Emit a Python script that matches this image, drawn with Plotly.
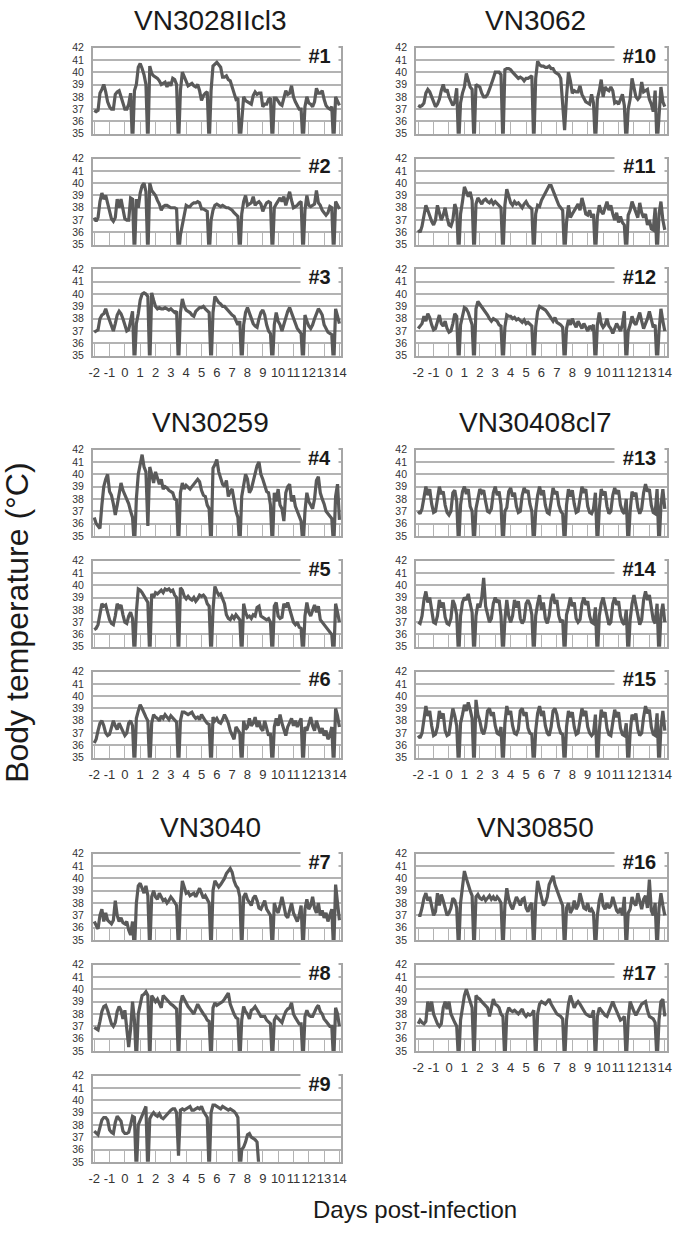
import plotly.graph_objects as go

# strain names above each column pair, top to bottom
strains = ["VN3028IIcl3", "VN3062", "VN30259", "VN30408cl7", "VN3040", "VN30850"]
day_ticks = list(range(-2, 15))
day_labels = [str(d) for d in day_ticks]
temp_ticks = list(range(35, 43))
start_day = -2
step_days = 0.125  # 3-hourly readings

# body temperature per animal (deg C); dips below 35 are handling artefacts
temp_01 = [36.9, 36.8, 36.9, 38.3, 38.6, 39.0, 38.4, 37.6,
           37.2, 37.0, 37.0, 38.2, 38.4, 38.5, 38.0, 37.4,
           37.0, 37.0, 37.4, 38.3, 34, 38.5, 39.0, 40.4,
           40.7, 40.3, 39.8, 39.0, 34, 40.5, 39.9, 39.7,
           39.6, 39.5, 39.3, 39.0, 39.1, 39.2, 38.8, 39.2,
           38.9, 39.5, 39.4, 39.0, 34, 38.5, 40.0, 39.6,
           39.2, 38.9, 39.0, 39.1, 38.9, 38.8, 39.0, 38.5,
           37.7, 38.1, 38.3, 38.4, 34, 38.5, 40.5, 40.7,
           40.8, 40.6, 40.4, 39.6, 39.6, 39.7, 39.4, 39.3,
           38.7, 38.3, 37.8, 37.9, 34, 36.5, 38.0, 37.7,
           37.6, 37.5, 37.4, 38.1, 38.4, 38.2, 38.3, 38.3,
           37.2, 37.4, 37.4, 37.8, 37.9, 34, 37.9, 37.9,
           37.6, 37.4, 37.3, 38.0, 38.5, 38.2, 38.3, 38.9,
           38.0, 37.6, 37.3, 37.0, 37.0, 34, 37.2, 38.0,
           37.5, 37.4, 37.2, 37.6, 38.7, 38.3, 38.3, 38.5,
           37.8, 37.3, 37.1, 37.0, 37.2, 34, 38.0, 37.6,
           37.3]
temp_02 = [37.2, 36.9, 37.2, 38.5, 39.2, 38.7, 39.0, 38.3,
           37.7, 37.1, 36.9, 37.2, 38.7, 38.0, 38.7, 37.8,
           37.1, 37.0, 37.0, 38.8, 38.7, 34, 38.7, 38.0,
           39.2, 39.8, 40.0, 39.3, 34, 40.0, 39.4, 39.2,
           39.0, 38.6, 38.3, 37.8, 38.1, 38.2, 38.2, 38.1,
           38.0, 38.0, 38.0, 37.9, 34, 35.8, 36.5, 37.5,
           38.2, 38.1, 38.1, 38.3, 38.4, 38.4, 38.5, 38.4,
           37.9, 37.9, 37.8, 37.7, 34, 37.0, 37.8, 38.2,
           38.3, 38.2, 38.1, 38.2, 38.1, 38.0, 38.0, 37.9,
           37.8, 37.6, 37.4, 37.3, 34, 37.5, 38.5, 39.0,
           38.2, 38.3, 38.4, 38.9, 38.2, 38.4, 38.5, 38.3,
           37.7, 38.1, 38.4, 38.5, 38.4, 34, 38.0, 38.3,
           38.6, 38.8, 38.5, 38.9, 38.2, 38.8, 39.3, 38.6,
           38.0, 38.1, 38.2, 38.4, 38.5, 34, 37.8, 39.0,
           38.2, 38.1, 38.2, 38.3, 39.4, 38.4, 38.2, 37.8,
           37.6, 37.4, 37.6, 38.1, 38.0, 34, 38.5, 38.2,
           37.9]
temp_03 = [36.9, 37.0, 37.1, 38.0, 38.3, 38.4, 38.8, 38.3,
           37.8, 37.3, 37.0, 37.6, 38.3, 38.6, 38.4, 38.0,
           37.4, 37.0, 37.1, 38.0, 38.6, 34, 37.6, 38.4,
           39.5, 40.0, 40.1, 40.0, 39.8, 34, 40.1, 39.5,
           39.0, 38.8, 38.9, 38.8, 38.8, 38.9, 38.8, 38.7,
           38.8, 38.6, 38.5, 38.6, 34, 38.5, 39.6, 39.0,
           38.7, 38.6, 38.5, 38.3, 38.2, 38.6, 38.8, 38.9,
           38.9, 39.0, 38.8, 38.6, 38.5, 34, 38.5, 39.8,
           39.5, 39.3, 39.2, 39.0, 39.0, 38.8, 38.7, 38.5,
           38.3, 38.2, 37.8, 37.5, 37.8, 34, 37.5, 38.5,
           38.9, 38.4, 38.0, 37.6, 37.4, 37.3, 38.0, 38.5,
           38.7, 38.3, 37.5, 37.0, 36.8, 34, 37.5, 38.5,
           37.8, 37.5, 37.0, 37.5, 38.2, 38.6, 38.9, 38.5,
           38.0, 37.6, 37.2, 37.0, 36.8, 34, 38.3, 37.8,
           37.4, 37.2, 37.5, 38.0, 38.4, 38.8, 38.6, 38.3,
           37.5, 37.2, 36.9, 36.8, 36.7, 34, 38.8, 38.2,
           37.6]
temp_04 = [36.5, 36.0, 35.8, 35.6, 37.5, 39.0, 39.6, 40.0,
           38.6, 38.3, 37.6, 36.7, 37.5, 38.6, 39.3, 38.7,
           38.3, 38.0, 37.6, 37.0, 36.5, 34, 38.0, 40.0,
           41.0, 41.6, 40.6, 40.2, 35.8, 40.6, 40.0, 39.3,
           40.2, 39.6, 39.2, 39.6, 38.8, 39.0, 38.9, 38.7,
           38.6, 38.5, 38.0, 37.9, 34, 38.5, 39.3, 38.8,
           39.1, 38.9, 38.8, 39.0, 39.2, 39.4, 39.6, 39.4,
           38.7, 38.3, 38.2, 37.5, 37.2, 34, 40.5, 40.8,
           41.2, 40.2, 39.6, 39.2, 39.0, 39.5, 38.2, 38.6,
           38.8, 37.8, 37.0, 36.5, 34, 38.2, 39.0, 40.0,
           39.6, 38.5, 38.8, 39.5, 40.2, 40.7, 41.0, 40.0,
           39.6, 39.0, 38.6, 38.5, 37.5, 34, 38.5, 37.8,
           38.8, 37.5, 37.2, 36.2, 38.5, 39.0, 39.2, 37.8,
           38.3, 37.4, 37.0, 36.6, 36.2, 34, 37.0, 38.5,
           37.8, 37.5, 37.2, 38.0, 39.5, 39.8, 38.5, 38.0,
           37.6, 37.0, 36.8, 36.5, 36.4, 34, 38.2, 39.2,
           36.3]
temp_05 = [36.4, 36.5, 36.8, 37.8, 38.5, 38.3, 38.4, 37.8,
           37.2, 36.9, 36.8, 37.5, 38.5, 38.2, 38.4, 37.6,
           37.0, 36.9, 37.5, 37.8, 37.3, 34, 37.8, 39.7,
           39.6, 39.4, 39.1, 38.8, 38.6, 34, 39.3, 39.0,
           39.4, 39.3, 39.5, 39.6, 39.4, 39.7, 39.6, 39.7,
           39.5, 39.6, 39.2, 39.0, 34, 39.8, 39.6, 39.1,
           38.9, 39.1, 38.9, 38.8, 39.0, 38.7, 38.9, 39.2,
           39.1, 39.2, 39.0, 38.5, 38.3, 34, 38.0, 39.9,
           39.5, 39.2, 39.3, 38.8, 38.5, 37.6, 37.3, 37.2,
           37.5, 37.3, 37.6, 37.4, 37.2, 34, 38.5, 37.8,
           37.4, 37.5, 37.3, 37.6, 37.5, 38.2, 38.3, 37.5,
           37.4, 37.3, 37.2, 37.3, 37.0, 34, 38.3, 38.6,
           37.5, 37.3, 37.4, 38.5, 38.2, 38.6, 38.0, 37.5,
           37.0, 36.8, 37.0, 36.6, 36.5, 34, 37.5, 38.6,
           37.8, 37.5, 38.0, 38.4, 37.8, 38.3, 37.2, 37.0,
           36.8, 36.5, 36.3, 36.2, 36.0, 34, 38.5, 37.8,
           37.0]
temp_06 = [36.2, 36.5, 37.2, 37.8, 38.0, 37.6, 37.0, 36.8,
           36.9, 37.5, 38.0, 37.6, 37.3, 37.8, 37.5, 37.2,
           36.8, 37.0, 37.8, 38.0, 37.6, 34, 38.2, 38.8,
           39.3, 39.0, 38.6, 38.3, 38.0, 34, 37.8, 38.5,
           38.3, 38.2, 38.0, 38.4, 38.2, 38.5, 38.3, 38.1,
           38.4, 38.2, 38.0, 37.9, 34, 38.0, 38.7, 38.7,
           38.6, 38.5, 38.6, 38.7, 38.4, 38.2, 38.3, 38.1,
           38.5, 38.2, 38.0, 37.8, 37.7, 34, 38.3, 38.0,
           38.2, 37.9, 37.8, 38.1, 38.5, 38.2, 37.8, 37.2,
           36.8, 36.5, 37.5, 37.3, 37.0, 34, 38.0, 37.3,
           37.5, 38.2, 37.6, 37.8, 38.3, 37.5, 38.0, 37.4,
           37.2, 38.0, 37.5, 36.8, 37.0, 34, 37.5, 38.2,
           37.6, 38.5, 37.8, 37.2, 36.8, 37.5, 37.8, 38.2,
           37.6, 38.0, 37.5, 37.8, 38.2, 34, 37.5, 37.2,
           37.8, 38.3, 37.6, 37.2, 38.0, 37.5, 37.0, 37.4,
           36.8, 37.2, 36.5, 36.8, 37.5, 34, 39.0, 38.4,
           37.5]
temp_07 = [36.5, 36.2, 35.9, 37.0, 37.5, 36.5, 37.2, 36.6,
           36.4, 36.3, 36.6, 38.2, 37.0, 36.5, 36.8, 36.4,
           36.3, 36.5, 35.8, 35.4, 36.5, 34, 38.0, 39.4,
           39.6, 39.2, 38.8, 39.4, 38.6, 34, 38.5, 39.0,
           38.5, 38.3, 38.8, 38.5, 38.2, 38.3, 38.0, 38.2,
           38.5, 38.3, 38.0, 37.8, 34, 38.0, 39.8, 39.2,
           38.8, 38.9, 38.6, 38.7, 38.8, 38.5, 38.9, 39.2,
           38.8, 38.4, 38.6, 38.3, 38.0, 34, 39.0, 39.8,
           39.5, 39.3, 39.5, 39.7, 40.0, 40.4, 40.6, 40.8,
           40.5, 39.8, 39.4, 39.2, 38.5, 34, 38.5, 38.8,
           38.3, 38.0, 37.8, 38.4, 38.6, 38.2, 37.6, 37.5,
           37.8, 38.2, 37.5, 37.2, 37.0, 34, 38.0, 37.5,
           37.2, 37.8, 38.5, 37.8, 37.0, 36.8, 37.5, 38.0,
           37.2, 36.8, 36.5, 37.0, 37.8, 34, 37.5, 38.3,
           37.5, 37.8, 38.5, 37.6, 37.2, 38.0, 37.0, 37.4,
           36.8, 37.2, 36.5, 37.0, 37.5, 34, 39.5, 38.0,
           36.6]
temp_08 = [36.9, 36.8, 36.7, 37.4, 38.2, 38.6, 38.7, 38.3,
           37.8, 37.2, 37.0, 37.3, 38.2, 38.6, 38.3, 37.6,
           38.3, 36.5, 35.3, 36.8, 39.0, 37.5, 34, 38.0,
           38.8, 39.5, 39.6, 39.8, 39.5, 34, 39.5, 39.3,
           39.0, 39.2, 38.8, 38.5, 39.5, 39.3, 39.2, 39.0,
           38.8, 38.7, 38.5, 38.4, 34, 38.8, 39.5, 39.2,
           38.8, 38.6, 38.4, 38.2, 38.0, 38.4, 38.8, 38.5,
           38.2, 38.0, 37.8, 37.5, 37.4, 34, 38.5, 38.9,
           38.7, 38.8, 38.9, 39.0, 39.2, 39.5, 39.7, 38.8,
           38.3, 38.0, 37.7, 37.6, 34, 37.5, 38.6, 38.2,
           38.0, 37.6, 38.3, 38.4, 38.6, 38.3, 38.0, 37.8,
           37.8, 37.8, 37.5, 37.3, 37.2, 34, 37.5, 37.8,
           37.6, 37.5, 37.3, 37.8, 38.2, 38.4, 38.5, 38.9,
           38.0, 37.7, 37.4, 37.2, 37.2, 34, 37.8, 38.3,
           37.9, 37.8, 37.8, 38.2, 38.5, 38.7, 38.2, 38.0,
           37.6, 37.4, 37.2, 37.0, 37.0, 34, 38.5, 38.0,
           37.0]
temp_09 = [37.5, 37.3, 37.2, 37.8, 38.4, 38.6, 38.6, 38.4,
           37.6, 37.4, 37.3, 38.2, 38.7, 38.5, 38.3, 37.5,
           37.3, 37.3, 37.4, 38.0, 38.7, 38.6, 34, 38.0,
           38.4, 38.8, 39.2, 39.5, 34, 38.5, 38.8, 39.0,
           38.8, 38.7, 38.9, 38.6, 38.5, 38.7, 38.9, 39.1,
           39.2, 39.3, 39.3, 39.0, 35.5, 39.2, 39.3, 39.2,
           39.3, 39.4, 39.5, 39.2, 39.2, 39.3, 39.4, 39.3,
           39.5, 39.1, 38.9, 38.6, 34, 39.0, 39.6, 39.6,
           39.5, 39.4, 39.3, 39.5, 39.4, 39.3, 39.2, 39.3,
           39.2, 39.1, 38.9, 38.6, 34, 36.0, 36.2, 36.6,
           37.2, 37.3, 37.0, 36.9, 36.8, 36.6, 34.5]
temp_10 = [37.3, 37.2, 37.3, 37.5, 38.3, 38.6, 38.4, 38.0,
           37.5, 37.2, 37.4, 37.8, 38.5, 39.0, 38.4, 38.6,
           38.0, 37.6, 37.3, 37.6, 38.7, 34, 37.5, 38.3,
           38.8, 39.9, 39.4, 38.8, 38.6, 34, 39.0, 38.9,
           38.8, 38.3, 38.0, 38.0, 38.2, 38.6, 39.0, 39.5,
           40.0, 40.0, 40.0, 39.8, 34, 40.2, 40.3, 40.3,
           40.2, 40.0, 39.8, 39.6, 39.5, 39.6, 39.5, 39.3,
           39.5, 39.5, 39.6, 39.7, 34, 39.5, 40.9, 40.6,
           40.5, 40.5, 40.4, 40.4, 40.5, 40.3, 40.3, 40.0,
           39.9, 39.8, 39.5, 37.0, 35.3, 38.0, 40.0, 39.3,
           38.3, 38.5, 38.4, 38.4, 38.9, 38.2, 37.9, 37.6,
           37.5, 37.4, 38.2, 37.5, 34, 37.8, 38.5, 39.4,
           38.0, 38.8, 38.6, 38.5, 38.8, 38.5, 37.5, 37.6,
           37.4, 37.8, 38.2, 37.3, 34, 37.0, 37.8, 39.5,
           38.6, 38.0, 37.8, 38.0, 39.2, 38.4, 38.5, 38.6,
           37.8, 37.4, 36.8, 38.5, 34, 37.0, 38.8, 37.6,
           37.2]
temp_11 = [36.2, 36.0, 36.5, 37.3, 38.2, 37.8, 37.3, 36.9,
           36.6, 37.0, 38.2, 37.5, 37.0, 37.4, 38.0, 37.2,
           36.6, 36.5, 37.0, 38.3, 37.8, 34, 37.5, 38.5,
           39.7, 39.3, 38.9, 39.3, 38.6, 34, 38.3, 38.8,
           38.5, 38.3, 38.6, 38.7, 38.5, 38.4, 38.6, 38.3,
           38.5, 38.3, 38.1, 38.0, 34, 38.2, 39.5, 38.9,
           38.4, 38.2, 38.5, 38.3, 38.4, 38.2, 38.0, 38.3,
           38.5, 38.2, 38.0, 37.9, 34, 37.5, 38.2, 38.1,
           38.6, 38.9, 39.2, 39.6, 39.8, 39.8, 39.4, 38.9,
           38.5, 38.2, 38.0, 37.8, 34, 36.8, 38.2, 37.2,
           37.5, 37.8, 38.0, 38.3, 37.8, 38.8, 38.2, 37.5,
           37.4, 37.8, 37.2, 37.5, 34, 37.3, 38.2, 37.7,
           37.5, 38.0, 38.5, 37.8, 38.2, 37.5, 37.0, 37.6,
           36.8, 37.3, 36.8, 36.6, 34, 37.4, 37.8, 38.5,
           38.0, 37.5, 37.2, 38.4, 37.6, 37.2, 37.5, 36.6,
           37.0, 36.3, 36.2, 38.0, 34, 37.5, 38.5, 37.0,
           36.2]
temp_12 = [37.2, 37.4, 37.6, 38.2, 37.8, 38.4, 38.1, 37.5,
           37.1, 37.2, 37.8, 38.3, 37.6, 37.4, 37.8, 37.2,
           36.9, 37.0, 37.6, 38.4, 38.2, 34, 37.5, 38.2,
           38.9, 38.8, 38.5, 38.0, 37.5, 34, 38.8, 39.4,
           39.2, 39.0, 38.8, 38.5, 38.3, 38.0, 37.8, 38.0,
           37.9, 37.8, 37.5, 37.4, 34, 37.3, 38.3, 38.2,
           38.2, 38.0, 38.1, 37.9, 38.0, 37.8, 37.7, 37.9,
           37.6, 37.7, 37.5, 37.4, 34, 37.3, 38.6, 39.0,
           38.9, 38.8, 38.7, 38.5, 38.3, 38.0, 37.8, 38.1,
           37.7, 37.6, 37.5, 37.3, 34, 37.2, 37.9, 37.5,
           38.0, 37.6, 37.3, 37.8, 37.5, 37.2, 37.6, 37.3,
           37.0, 37.4, 37.2, 37.5, 34, 37.5, 38.5, 37.6,
           37.3, 37.5, 38.0, 37.4, 37.2, 36.8, 37.2, 37.6,
           37.3, 37.0, 37.5, 38.6, 34, 37.0, 37.5, 38.2,
           37.7, 37.5, 38.0, 38.5, 37.8, 37.2, 37.6, 38.0,
           38.6, 37.8, 37.3, 37.5, 34, 37.0, 38.8, 37.8,
           37.0]
temp_13 = [37.0, 36.8, 37.2, 38.2, 39.0, 38.3, 38.8, 37.6,
           36.9, 37.0, 38.2, 39.0, 38.4, 38.6, 37.5, 36.9,
           36.7, 37.0, 38.5, 38.7, 37.8, 34, 37.5, 38.6,
           39.0, 38.4, 38.8, 37.4, 37.0, 34, 37.2, 38.0,
           38.8, 38.5, 38.7, 37.8, 37.0, 36.9, 37.2, 38.5,
           39.0, 38.3, 38.6, 37.5, 34, 37.0, 37.3, 38.6,
           38.9, 38.2, 38.5, 37.4, 36.9, 37.0, 38.3, 38.9,
           38.5, 38.7, 37.6, 37.0, 34, 37.0, 38.3, 39.0,
           38.3, 38.7, 37.5, 36.9, 36.8, 37.8, 38.9, 38.4,
           38.6, 37.5, 37.0, 36.8, 34, 37.5, 38.8, 38.2,
           38.7, 37.6, 36.9, 37.0, 38.2, 39.0, 38.5, 38.8,
           37.4, 36.9, 36.8, 37.2, 38.5, 34, 37.2, 38.8,
           38.3, 38.6, 37.4, 36.8, 37.0, 38.3, 38.9, 38.4,
           38.7, 37.5, 37.0, 36.8, 38.0, 34, 37.0, 38.6,
           38.2, 38.5, 37.3, 36.8, 37.2, 38.5, 39.2, 38.6,
           38.8, 37.5, 36.9, 36.8, 38.8, 34, 37.5, 38.8,
           37.2]
temp_14 = [37.0, 36.9, 37.5, 38.8, 39.5, 38.6, 39.0, 37.8,
           37.0, 36.9, 37.5, 38.8, 38.2, 38.6, 37.4, 36.9,
           36.8, 37.3, 38.8, 38.4, 37.6, 34, 37.5, 38.6,
           39.0, 38.8, 39.3, 38.5, 37.8, 34, 37.5, 38.5,
           38.2, 39.0, 40.6, 38.3, 37.5, 37.0, 37.3, 38.5,
           39.0, 38.6, 38.8, 37.5, 34, 37.2, 38.8, 37.5,
           37.0, 37.5, 38.8, 38.2, 38.7, 37.3, 36.9, 37.2,
           38.5, 38.8, 38.4, 37.6, 34, 37.5, 38.5, 39.2,
           38.0, 38.6, 37.3, 36.9, 37.5, 38.8, 39.3, 38.5,
           38.8, 37.5, 37.0, 37.2, 34, 37.6, 38.2, 39.0,
           38.3, 38.6, 37.3, 37.0, 37.2, 38.5, 39.0, 38.4,
           38.7, 37.5, 37.0, 36.9, 38.2, 34, 37.5, 38.5,
           39.0, 38.2, 37.5, 36.8, 37.0, 38.5, 39.0, 38.4,
           38.7, 37.5, 37.0, 36.8, 38.0, 34, 37.2, 38.5,
           39.2, 38.3, 37.5, 36.8, 37.2, 38.8, 39.5, 38.8,
           39.2, 38.0, 37.2, 36.9, 38.5, 34, 37.6, 38.5,
           37.0]
temp_15 = [36.8, 36.6, 37.0, 38.2, 39.2, 38.4, 38.8, 37.6,
           36.8, 36.9, 37.5, 38.8, 38.2, 38.6, 37.2, 36.8,
           36.9, 38.0, 39.0, 38.4, 37.6, 34, 37.8, 38.5,
           39.3, 38.8, 39.5, 38.9, 38.2, 34, 39.7, 38.5,
           38.0, 37.2, 36.9, 37.5, 38.8, 39.0, 38.4, 38.7,
           37.6, 37.0, 36.9, 37.5, 34, 37.8, 39.2, 38.5,
           38.8, 37.6, 37.0, 36.9, 37.3, 38.8, 39.0, 38.4,
           38.7, 37.4, 37.0, 36.9, 34, 37.2, 38.6, 39.2,
           38.4, 38.8, 37.6, 37.0, 36.8, 37.5, 38.8, 39.0,
           38.5, 37.5, 37.0, 36.9, 34, 37.5, 38.8, 38.3,
           38.7, 37.5, 36.9, 37.0, 38.2, 39.0, 38.4, 38.8,
           37.5, 37.0, 36.8, 37.0, 38.5, 34, 37.2, 38.9,
           38.3, 38.7, 37.4, 36.9, 36.8, 38.0, 38.9, 38.3,
           38.7, 37.4, 36.9, 36.8, 37.8, 34, 37.0, 38.5,
           38.1, 38.6, 37.3, 36.8, 37.0, 38.3, 39.2, 38.6,
           38.9, 37.5, 36.9, 36.8, 38.6, 34, 37.5, 38.8,
           37.2]
temp_16 = [37.0, 37.0, 37.6, 38.4, 38.8, 38.2, 38.5, 37.6,
           37.0, 37.3, 38.8, 37.8, 38.7, 38.2, 37.5, 37.0,
           37.2, 37.6, 38.4, 38.2, 37.6, 34, 38.0, 39.5,
           40.6, 40.0, 39.4, 39.0, 38.6, 34, 38.5, 38.7,
           38.4, 38.3, 38.5, 38.2, 38.4, 38.6, 38.3, 38.5,
           38.2, 38.5, 38.3, 38.0, 34, 37.8, 39.2, 38.3,
           37.8, 37.5, 38.0, 38.5, 38.2, 37.8, 38.3, 38.4,
           37.6, 37.3, 37.8, 38.0, 34, 38.0, 39.8, 39.2,
           38.5, 37.8, 38.0, 38.5, 39.5, 39.8, 40.2, 39.5,
           39.0, 38.6, 38.2, 37.8, 34, 37.6, 38.0, 37.2,
           37.5, 38.2, 37.5, 37.8, 38.8, 38.2, 37.6, 37.5,
           38.0, 37.3, 37.5, 37.2, 34, 37.0, 38.2, 38.8,
           37.8, 37.5, 38.0, 37.6, 37.8, 38.5, 38.0, 37.4,
           37.2, 37.6, 37.0, 38.5, 34, 37.2, 37.5, 38.5,
           38.0, 37.8, 38.8, 38.2, 37.5, 38.3, 38.6, 37.6,
           39.9, 37.4, 37.0, 38.0, 34, 37.6, 38.8, 37.8,
           37.0]
temp_17 = [37.2, 37.5, 37.3, 37.2, 37.4, 39.0, 38.2, 39.0,
           38.0, 37.5, 37.2, 37.0, 37.2, 38.5, 39.0, 38.4,
           39.0, 38.0, 37.6, 37.3, 37.0, 34, 37.5, 38.5,
           39.5, 40.0, 39.5, 38.8, 38.5, 34, 39.5, 39.3,
           39.2, 39.0, 38.8, 38.6, 38.5, 37.8, 38.6, 39.2,
           38.8, 38.7, 38.5, 38.0, 37.8, 34, 38.0, 38.5,
           38.3, 38.2, 38.3, 38.1, 38.0, 38.2, 38.4, 38.0,
           37.8, 38.0, 37.9, 38.0, 38.3, 34, 38.0, 38.8,
           39.0, 38.9, 38.8, 39.0, 39.2, 38.8, 38.5, 38.2,
           38.0, 37.9, 37.8, 37.6, 34, 37.5, 38.8, 39.5,
           39.0, 38.5, 38.8, 39.0, 38.8, 38.5, 38.2, 38.0,
           37.9, 37.8, 37.8, 38.3, 34, 37.8, 38.5, 38.3,
           38.0, 37.9, 37.8, 38.2, 38.5, 39.0, 38.6, 38.2,
           37.8, 37.5, 37.6, 37.8, 34, 37.5, 39.0, 38.5,
           38.2, 37.9, 38.2, 38.6, 38.8, 38.9, 39.0, 38.3,
           37.8, 37.7, 37.6, 37.3, 34, 37.5, 39.0, 39.2,
           37.8]

series = [temp_01, temp_02, temp_03, temp_04, temp_05, temp_06, temp_07, temp_08, temp_09,
          temp_10, temp_11, temp_12, temp_13, temp_14, temp_15, temp_16, temp_17]

W, H = 680, 1253
FONT = "Liberation Sans, Arial, Helvetica, sans-serif"
line_color = "#5a5a5a"
grid_color = "#b3b3b3"
axis_color = "#a6a6a6"
col_px = [(90, 342), (418, 673)]
col_range = [[-2.1, 14.1], [-2.15, 14.15]]
group_top = [42, 448, 856]
row_step = 112
panel_h = 87

fig = go.Figure()

for idx, temps in enumerate(series):
    n = idx + 1
    col = 0 if n <= 9 else 1
    j = n - 1 if col == 0 else n - 10
    group, row = divmod(j, 3)
    x0, x1 = col_px[col]
    top = group_top[group] + row * row_step
    bottom = top + panel_h
    sfx = "" if n == 1 else str(n)
    last_in_group = row == 2 or n == 17

    fig.add_trace(go.Scatter(
        y=temps, x0=start_day, dx=step_days, mode="lines",
        line=dict(color=line_color, width=3.2),
        xaxis="x" + sfx, yaxis="y" + sfx,
        showlegend=False, hoverinfo="skip"))

    fig.update_layout({
        "xaxis" + sfx: dict(
            domain=[x0 / W, x1 / W], anchor="y" + sfx, range=col_range[col],
            tickmode="array", tickvals=day_ticks, ticktext=day_labels,
            ticks="inside", ticklen=12, tickwidth=1, tickcolor=grid_color,
            showgrid=False, zeroline=False,
            showline=True, linecolor=axis_color, linewidth=1.5, mirror=True,
            showticklabels=last_in_group, tickangle=0, ticklabelstandoff=4,
            tickfont=dict(family=FONT, size=13, color="#333333")),
        "yaxis" + sfx: dict(
            domain=[1 - bottom / H, 1 - top / H], anchor="x" + sfx, range=[35, 42],
            tickmode="array", tickvals=temp_ticks, ticks="", showgrid=True,
            gridcolor=grid_color, gridwidth=1.5, zeroline=False,
            showline=True, linecolor=axis_color, linewidth=1.5, mirror=True,
            ticklabelstandoff=5,
            tickfont=dict(family=FONT, size=10.5, color="#333333")),
    })

    label = f"#{n}"
    fig.add_annotation(
        xref=f"x{sfx} domain", yref=f"y{sfx} domain",
        x=1, y=1 - 8 / panel_h, xanchor="right", yanchor="middle", xshift=-2,
        text=f"<b>{label}</b>", showarrow=False,
        font=dict(family=FONT, size=20, color="#1a1a1a"),
        bgcolor="white", width=12 * len(label) + 13, height=22, borderpad=0)

# strain titles over each column of each group
for g in range(3):
    for col in range(2):
        cx = (col_px[col][0] + col_px[col][1]) / 2 - 6
        fig.add_annotation(
            xref="paper", yref="paper", x=cx / W, y=1 - (group_top[g] - 27) / H,
            xanchor="center", yanchor="middle", showarrow=False,
            text=strains[2 * g + col], font=dict(family=FONT, size=28, color="#1a1a1a"))

fig.add_annotation(
    xref="paper", yref="paper", x=13 / W, y=1 - 623 / H, textangle=-90,
    xanchor="center", yanchor="middle", showarrow=False,
    text="Body temperature (°C)", font=dict(family=FONT, size=32, color="#1a1a1a"))
fig.add_annotation(
    xref="paper", yref="paper", x=417 / W, y=1 - 1215 / H,
    xanchor="center", yanchor="middle", showarrow=False,
    text="Days post-infection", font=dict(family=FONT, size=24, color="#1a1a1a"))

fig.update_layout(
    width=W, height=H, margin=dict(l=0, r=0, t=0, b=0),
    paper_bgcolor="white", plot_bgcolor="white")

# the page's default body margin would push the figure off the window edge
fig.write_html("out.html", config={"displayModeBar": False},
               post_script="document.body.style.margin='0px';")
